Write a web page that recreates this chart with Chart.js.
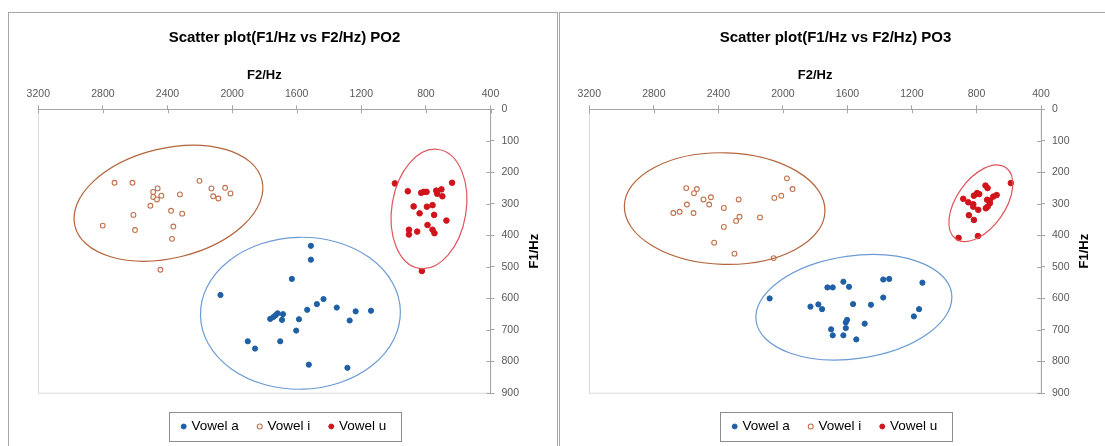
<!DOCTYPE html>
<html>
<head>
<meta charset="utf-8">
<title>Scatter plot F1/Hz vs F2/Hz</title>
<script src="https://cdn.jsdelivr.net/npm/chart.js@4.4.0/dist/chart.umd.min.js"></script>
<style>
  body { margin: 0; background: #fff; }
  .panel { position: absolute; top: 12px; height: 460px; border: 1px solid #a6a6a6; box-sizing: border-box; }
  canvas { position: absolute; top: 12px; }
</style>
</head>
<body>
<div class="panel" style="left:8px;width:550px"></div>
<div class="panel" style="left:559px;width:560px"></div>
<canvas id="po2" width="549" height="434" style="left:8px"></canvas>
<canvas id="po3" width="545" height="434" style="left:560px"></canvas>
<script>
// tick labels
const f2Ticks = [3200, 2800, 2400, 2000, 1600, 1200, 800, 400];
const f1Ticks = [0, 100, 200, 300, 400, 500, 600, 700, 800, 900];

// PO2 - values (Hz)
const po2A_F2 = [1512, 1512, 1630, 2072, 1434, 1475, 1535, 1352, 1235, 1140, 1272, 1586, 1603, 1764, 1745, 1730, 1718, 1685, 1691, 1903, 1858, 1702, 1525, 1286];
const po2A_F1 = [433, 477, 538, 589, 602, 618, 636, 629, 641, 639, 670, 666, 702, 665, 659, 653, 647, 650, 668, 736, 759, 736, 810, 820];
const po2I_F2 = [2728, 2617, 2461, 2489, 2488, 2438, 2465, 2506, 2323, 2202, 2128, 2043, 2117, 2085, 2010, 2378, 2309, 2611, 2801, 2601, 2364, 2372, 2444];
const po2I_F1 = [233, 233, 251, 262, 278, 274, 286, 306, 270, 227, 251, 249, 276, 283, 267, 322, 331, 335, 369, 383, 372, 411, 509];
const po2U_F2 = [992, 912, 829, 813, 796, 736, 704, 730, 698, 638, 876, 794, 759, 839, 749, 673, 790, 905, 905, 854, 759, 747, 825];
const po2U_F1 = [235, 260, 265, 262, 262, 258, 254, 268, 276, 233, 308, 309, 304, 330, 335, 353, 367, 382, 397, 388, 382, 393, 513];

// PO3
const po3A_F2 = [2082, 1829, 1780, 1757, 1724, 1691, 1625, 1590, 1565, 1454, 1378, 1341, 1378, 1135, 1156, 1188, 1602, 1610, 1610, 1701, 1691, 1625, 1545, 1493];
const po3A_F1 = [600, 626, 619, 634, 565, 565, 547, 563, 618, 620, 540, 538, 597, 550, 634, 657, 668, 676, 694, 698, 717, 717, 730, 680];
const po3I_F2 = [2599, 2533, 2551, 2595, 2679, 2640, 2554, 2492, 2446, 2457, 2366, 2274, 2269, 2290, 2366, 2426, 2300, 2142, 2053, 2010, 1975, 1940, 2057];
const po3I_F1 = [250, 253, 266, 302, 329, 325, 329, 286, 279, 302, 313, 286, 341, 354, 373, 423, 458, 343, 281, 274, 219, 253, 472];
const po3U_F2 = [587, 744, 731, 675, 696, 783, 796, 816, 882, 851, 820, 820, 789, 734, 717, 731, 742, 717, 847, 816, 911, 791];
const po3U_F1 = [234, 242, 250, 272, 277, 269, 266, 274, 284, 295, 301, 309, 319, 287, 298, 309, 314, 290, 336, 351, 408, 402];

// ellipses around each vowel group (centre and half axes in Hz, tilt in degrees)
const po2Ellipses = [
  { label: 'Vowel i', f2: 2394, f1: 298, rF2: 596, rF1: 174, tilt: -13.7 },
  { label: 'Vowel a', f2: 1577, f1: 647, rF2: 619, rF1: 241, tilt: -1.4 },
  { label: 'Vowel u', f2: 781, f1: 316, rF2: 230, rF1: 191, tilt: 9.3 }
];
const po3Ellipses = [
  { label: 'Vowel i', f2: 2361, f1: 315, rF2: 622, rF1: 177, tilt: 1.6 },
  { label: 'Vowel a', f2: 1560, f1: 628, rF2: 612, rF1: 163, tilt: -8 },
  { label: 'Vowel u', f2: 773, f1: 298, rF2: 270, rF1: 77, tilt: -55 }
];

const seriesStyle = {
  'Vowel a': { pointStyle: 'circle', pointRadius: 2.6, backgroundColor: '#1F5FA6', borderColor: '#1F5FA6', borderWidth: 1 },
  'Vowel i': { pointStyle: 'circle', pointRadius: 2.4, backgroundColor: '#ffffff', borderColor: '#C0714B', borderWidth: 1.1 },
  'Vowel u': { pointStyle: 'circle', pointRadius: 2.8, backgroundColor: '#D0141C', borderColor: '#D0141C', borderWidth: 1 }
};
const ellipseColor = { 'Vowel a': '#6B9BD3', 'Vowel i': '#B4643C', 'Vowel u': '#E0545C' };

Chart.defaults.font.family = "'Liberation Sans', Arial, sans-serif";

function pts(xs, ys) {
  return xs.map((x, i) => ({ x, y: ys[i] }));
}

// light frame round the plot area
const plotFrame = {
  id: 'plotFrame',
  beforeDraw(chart) {
    const { ctx, chartArea: a } = chart;
    ctx.save();
    ctx.strokeStyle = '#d9d9d9';
    ctx.lineWidth = 1;
    ctx.strokeRect(Math.round(a.left) + 0.5, Math.round(a.top) + 0.5, a.width, a.height);
    ctx.restore();
  }
};

const vowelEllipses = {
  id: 'vowelEllipses',
  afterDatasetsDraw(chart, args, opts) {
    const { ctx, scales: { x, y } } = chart;
    ctx.save();
    ctx.lineWidth = 1.2;
    (opts.items || []).forEach(e => {
      const cx = x.getPixelForValue(e.f2);
      const cy = y.getPixelForValue(e.f1);
      const rx = Math.abs(x.getPixelForValue(e.f2 + e.rF2) - cx);
      const ry = Math.abs(y.getPixelForValue(e.f1 + e.rF1) - cy);
      ctx.strokeStyle = ellipseColor[e.label];
      ctx.beginPath();
      ctx.ellipse(cx, cy, rx, ry, e.tilt * Math.PI / 180, 0, Math.PI * 2);
      ctx.stroke();
    });
    ctx.restore();
  }
};

// inner half of the crossing tick marks, F1 title, legend box
const axisExtras = {
  id: 'axisExtras',
  afterDraw(chart) {
    const { ctx, chartArea: a, scales: { x, y } } = chart;
    ctx.save();
    ctx.strokeStyle = '#a6a6a6';
    ctx.lineWidth = 1;
    ctx.beginPath();
    x.ticks.forEach(t => {
      const px = Math.round(x.getPixelForValue(t.value)) + 0.5;
      ctx.moveTo(px, a.top);
      ctx.lineTo(px, a.top + 4);
    });
    y.ticks.forEach(t => {
      const py = Math.round(y.getPixelForValue(t.value)) + 0.5;
      ctx.moveTo(a.right - 4, py);
      ctx.lineTo(a.right, py);
    });
    ctx.stroke();

    ctx.translate(a.right + 43.7, (a.top + a.bottom) / 2);
    ctx.rotate(-Math.PI / 2);
    ctx.fillStyle = '#000';
    ctx.font = "bold 13px 'Liberation Sans', Arial, sans-serif";
    ctx.textAlign = 'center';
    ctx.textBaseline = 'middle';
    ctx.fillText('F1/Hz', 0, 0);
    ctx.setTransform(1, 0, 0, 1, 0, 0);

    const boxes = chart.legend.legendHitBoxes;
    if (boxes.length) {
      const first = boxes[0], last = boxes[boxes.length - 1];
      const cy = first.top + first.height / 2;
      ctx.strokeStyle = '#8c8c8c';
      ctx.strokeRect(Math.round(first.left - 14) + 0.5, Math.round(cy - 14.5) + 0.5,
        Math.round(last.left + last.width - first.left + 28), 29);
    }
    ctx.restore();
  }
};

function makeChart(id, title, series, ellipses, box) {
  return new Chart(document.getElementById(id), {
    type: 'scatter',
    data: {
      datasets: series.map(s => ({ label: s.label, data: pts(s.f2, s.f1), ...seriesStyle[s.label] }))
    },
    options: {
      responsive: false,
      animation: false,
      events: [],
      layout: { autoPadding: false, padding: { left: box.left, right: box.right, top: 0, bottom: 2.75 } },
      plugins: {
        title: { display: true, text: title, color: '#000', font: { size: 15, weight: 'bold' }, padding: { top: 16.5, bottom: 0 } },
        legend: {
          position: 'bottom',
          title: { display: true, text: '', font: { size: 5 }, padding: { top: 0, bottom: 0.75 } },
          labels: { usePointStyle: true, boxWidth: 2, boxHeight: 3.5, padding: 20, color: '#000', font: { size: 13.5 } }
        },
        tooltip: { enabled: false },
        vowelEllipses: { items: ellipses }
      },
      scales: {
        x: {
          type: 'linear', position: 'top', min: 400, max: 3200, reverse: true,
          afterBuildTicks: s => { s.ticks = f2Ticks.map(v => ({ value: v })); },
          afterFit: s => { s.height = 62.8; },
          ticks: { color: '#595959', font: { size: 10.5 }, padding: 5.3, maxRotation: 0, autoSkip: false, callback: v => String(v) },
          grid: { drawOnChartArea: false, tickLength: 4, color: '#a6a6a6' },
          border: { color: '#a6a6a6' },
          title: { display: true, text: 'F2/Hz', color: '#000', font: { size: 13, weight: 'bold' }, padding: { top: 21.2, bottom: 0 } }
        },
        y: {
          type: 'linear', position: 'right', min: 0, max: 900, reverse: true,
          afterBuildTicks: s => { s.ticks = f1Ticks.map(v => ({ value: v })); },
          afterFit: s => { s.width = box.yWidth; },
          ticks: { color: '#595959', font: { size: 10.5 }, padding: 7, autoSkip: false, callback: v => String(v) },
          grid: { drawOnChartArea: false, tickLength: 4, color: '#a6a6a6' },
          border: { color: '#a6a6a6' }
        }
      }
    },
    plugins: [plotFrame, vowelEllipses, axisExtras]
  });
}

makeChart('po2', 'Scatter plot(F1/Hz vs F2/Hz) PO2', [
  { label: 'Vowel a', f2: po2A_F2, f1: po2A_F1 },
  { label: 'Vowel i', f2: po2I_F2, f1: po2I_F1 },
  { label: 'Vowel u', f2: po2U_F2, f1: po2U_F1 }
], po2Ellipses, { left: 30.3, right: 26.3, yWidth: 40.2 });

makeChart('po3', 'Scatter plot(F1/Hz vs F2/Hz) PO3', [
  { label: 'Vowel a', f2: po3A_F2, f1: po3A_F1 },
  { label: 'Vowel i', f2: po3I_F2, f1: po3I_F1 },
  { label: 'Vowel u', f2: po3U_F2, f1: po3U_F1 }
], po3Ellipses, { left: 29.3, right: 23.3, yWidth: 40.7 });
</script>
</body>
</html>
